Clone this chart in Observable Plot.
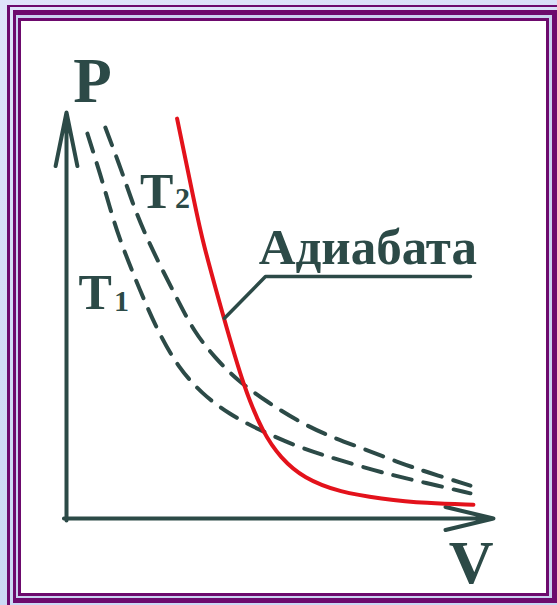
<!DOCTYPE html>
<html>
<head>
<meta charset="utf-8">
<script src="https://cdn.jsdelivr.net/npm/d3@7"></script>
<script src="https://cdn.jsdelivr.net/npm/@observablehq/plot@0.6"></script>
<style>
  html, body { margin: 0; padding: 0; }
  body {
    width: 557px; height: 605px; overflow: hidden; position: relative;
    background: linear-gradient(160deg, #e0e4fa 0%, #d3dcf6 45%, #c6d7f2 100%);
  }
  .frame { position: absolute; box-sizing: border-box; border-style: solid; border-color: #6d0a6d; }
  .outer { left: 7px; top: 5px; width: 620px; height: 680px; border-width: 2px 0 0 3px; }
  .middle { left: 13px; top: 10px; width: 544px; height: 593px; border-width: 5px 5px 5px 3px; background: #c9d2f0; }
  .inner { left: 18px; top: 18px; width: 531px; height: 578px; border-width: 3px; background: #ffffff; }
  #chart { position: absolute; left: 0; top: 0; }
</style>
</head>
<body>
<div class="frame outer"></div>
<div class="frame middle"></div>
<div class="frame inner"></div>
<div id="chart"></div>
<script>
// P–V diagram: two isotherms (T1 < T2) and an adiabat, V and P in arbitrary units 0..100

// Isotherm T1 (lower dashed curve)
const t1V = [4.9, 8.0, 10.2, 12.2, 15.5, 18.3, 21.8, 26.2, 31.6, 38.2, 45.0, 54.0, 61.1, 68.9, 76.6, 83.6, 94.6];
const t1P = [94.8, 84.5, 76.4, 69.5, 60.6, 53.5, 45.3, 37.2, 30.8, 25.6, 21.9, 17.7, 15.3, 12.8, 10.6, 8.9, 6.2];

// Isotherm T2 (upper dashed curve)
const t2V = [9.1, 12.9, 15.5, 18.3, 22.5, 26.2, 30.0, 34.7, 40.0, 47.0, 54.0, 61.1, 69.6, 77.5, 84.5, 94.6];
const t2P = [96.3, 85.7, 77.6, 70.2, 61.1, 53.5, 45.8, 39.7, 34.0, 28.7, 24.1, 20.4, 17.2, 13.9, 11.4, 8.1];

// Adiabat (red curve)
const adV = [25.9, 30.1, 31.8, 36.8, 41.5, 46.1, 50.1, 55.5, 64.2, 73.5, 84.5, 95.3];
const adP = [98.5, 77.1, 68.5, 49.5, 32.3, 20.9, 15.0, 9.9, 6.4, 4.9, 3.7, 3.4];

// Leader from the "Адиабата" label down to the adiabat
const leaderV = [94.6, 46.6, 37.0];
const leaderP = [59.6, 59.6, 49.3];

// Axis extents
const vMax = 100;
const pMax = 100;

// Text labels
const axisNames = ["P", "V"];
const tempName = "T";
const tempIndex = ["1", "2"];
const adiabatName = "Адиабата";

const zip = (V, P) => V.map((v, i) => ({v, p: P[i]}));

const ink = "#2c4a47";
const red = "#e3121b";
const font = "Liberation Serif, Times New Roman, serif";

const label = (text, x, y, fontSize) =>
  Plot.text([text], {
    x, y, text: d => d, textAnchor: "start", lineAnchor: "bottom",
    fontSize, fontWeight: "bold", fontFamily: font, fill: ink
  });

const chart = Plot.plot({
  width: 557,
  height: 605,
  margin: 0,
  style: {background: "transparent", overflow: "visible"},
  x: {domain: [0, vMax], range: [66, 493], axis: null},
  y: {domain: [0, pMax], range: [518, 112], axis: null},
  marks: [
    // axes with arrowheads
    Plot.arrow([{x1: -0.6, y1: 0, x2: vMax, y2: 0}], {
      x1: "x1", y1: "y1", x2: "x2", y2: "y2",
      stroke: ink, strokeWidth: 4, headAngle: 27, headLength: 18.5
    }),
    Plot.arrow([{x1: 0, y1: -0.5, x2: 0, y2: pMax}], {
      x1: "x1", y1: "y1", x2: "x2", y2: "y2",
      stroke: ink, strokeWidth: 4, headAngle: 23, headLength: 20.5
    }),
    // isotherms
    Plot.line(zip(t1V, t1P), {
      x: "v", y: "p", curve: "basis",
      stroke: ink, strokeWidth: 4, strokeDasharray: "19,12"
    }),
    Plot.line(zip(t2V, t2P), {
      x: "v", y: "p", curve: "basis",
      stroke: ink, strokeWidth: 4, strokeDasharray: "19,12"
    }),
    // adiabat
    Plot.line(zip(adV, adP), {
      x: "v", y: "p", curve: "basis",
      stroke: red, strokeWidth: 4
    }),
    // leader line
    Plot.line(zip(leaderV, leaderP), {
      x: "v", y: "p", stroke: ink, strokeWidth: 3.5, strokeLinejoin: "round"
    }),
    // axis names
    label(axisNames[0], 1.6, 102.5, 63),
    label(axisNames[1], 89.5, -15.8, 62),
    // temperature labels
    label(tempName, 2.8, 51.7, 50),
    label(tempIndex[0], 11.1, 51.2, 30),
    label(tempName, 17.2, 76.6, 50),
    label(tempIndex[1], 25.4, 76.4, 30),
    // adiabat label
    label(adiabatName, 45.0, 62.8, 51)
  ]
});

document.getElementById("chart").appendChild(chart);
</script>
</body>
</html>
